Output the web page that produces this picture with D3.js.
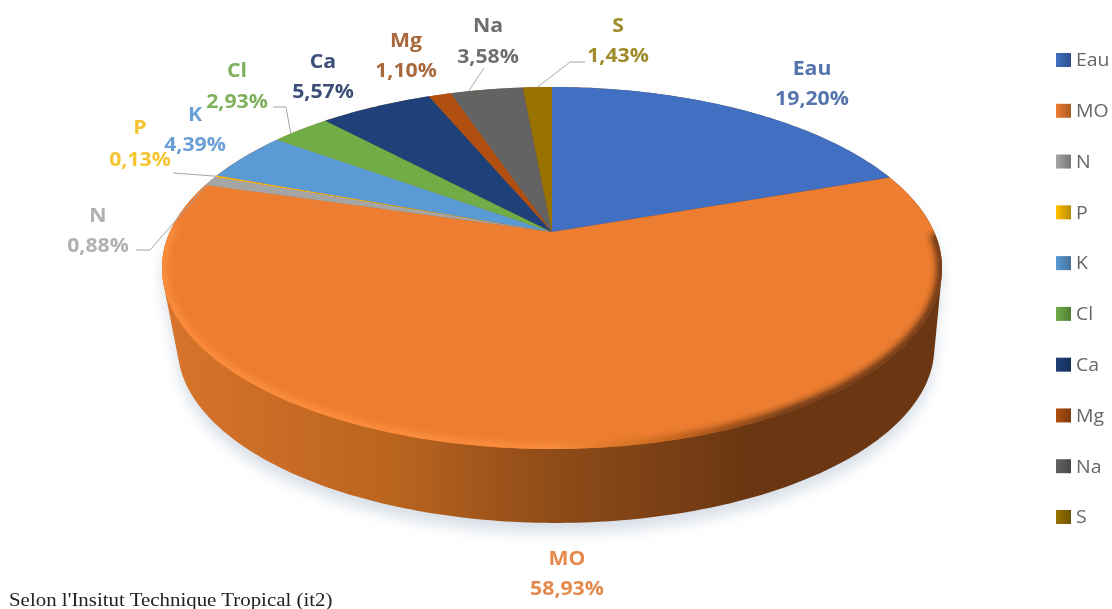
<!DOCTYPE html>
<html>
<head>
<meta charset="utf-8">
<script src="https://cdn.jsdelivr.net/npm/d3@7"></script>
<style>
  html, body { margin: 0; padding: 0; background: #fff; overflow: hidden; }
  svg { display: block; filter: blur(0.45px); }
</style>
</head>
<body>
<svg id="chart" width="1112" height="609"></svg>
<script>
const names = ["Eau", "MO", "N", "P", "K", "Cl", "Ca", "Mg", "Na", "S"]
const shares = [19.20, 58.93, 0.88, 0.13, 4.39, 2.93, 5.57, 1.10, 3.58, 1.43]
const shareLabels = ["19,20%", "58,93%", "0,88%", "0,13%", "4,39%", "2,93%", "5,57%", "1,10%", "3,58%", "1,43%"]
const colors = ["#4170c2", "#ed7d31", "#a5a5a5", "#ffc000", "#5b9bd5", "#70ad47", "#1f4179", "#b04f10", "#636363", "#997300"]
const labelColors = ["#5474ae", "#e58a4c", "#b0b0b0", "#f5c430", "#6a9fd6", "#7fb05e", "#3c4f78", "#a8683c", "#6e6e6e", "#a08a2a"]

const svg = d3.select("#chart")
const defs = svg.append("defs")

// pie is drawn in perspective: unit circle -> rim, apex stays off the ellipse centre
const tilt = -0.199
const xScale = d3.scaleLinear().domain([-1, 1]).range([552 - 382.2, 552 + 382.2])
const yScale = d3.scaleLinear().domain([-1, 1]).range([232 - 173.8, 232 + 173.8])
const rim = a => {
  const u = Math.sin(a), v = -Math.cos(a), w = 1 + tilt * v
  return [xScale(u / w), yScale(v / w)]
}
const apex = [xScale(0), yScale(0)]
const lineGen = d3.line()

const arcPoints = (from, to) => {
  const n = Math.max(2, Math.ceil((to - from) * 60))
  return d3.range(n + 1).map(i => rim(from + (to - from) * i / n))
}

const arcs = d3.pie().sort(null).value(d => d)(shares)
const fullRim = arcPoints(0, Math.PI * 2)

// bottom edge of the side wall, a little narrower than the rim
const bottom = fullRim.map(p => [(p[0] - 552) * 0.97 + 556, (p[1] - 268) * 0.97 + 347.4])
const hull = d3.polygonHull(fullRim.concat(bottom))

// gradients
const sideGrad = defs.append("linearGradient").attr("id", "side")
  .attr("gradientUnits", "userSpaceOnUse").attr("x1", 162).attr("x2", 942).attr("y1", 0).attr("y2", 0)
sideGrad.selectAll("stop")
  .data([[0, "#d9742b"], [0.3, "#b9641f"], [0.5, "#8f4c18"], [0.75, "#6a3712"], [1, "#6a3712"]])
  .enter().append("stop")
  .attr("offset", d => d[0]).attr("stop-color", d => d[1])

const bevelGrad = defs.append("linearGradient").attr("id", "bevel")
  .attr("gradientUnits", "userSpaceOnUse").attr("x1", 162).attr("x2", 942).attr("y1", 0).attr("y2", 0)
bevelGrad.selectAll("stop")
  .data([[0, "#fb8d3c"], [0.5, "#fb8d3c"], [0.64, "#c9691f"], [0.8, "#6a3712"], [1, "#6a3712"]])
  .enter().append("stop")
  .attr("offset", d => d[0]).attr("stop-color", d => d[1])

defs.append("filter").attr("id", "soft").attr("x", "-10%").attr("y", "-10%").attr("width", "120%").attr("height", "120%")
  .append("feGaussianBlur").attr("stdDeviation", 7)
defs.append("filter").attr("id", "softEdge").attr("x", "-10%").attr("y", "-10%").attr("width", "120%").attr("height", "120%")
  .append("feGaussianBlur").attr("stdDeviation", 3)
defs.append("clipPath").attr("id", "topClip")
  .append("path").attr("d", lineGen(fullRim) + "Z")

names.forEach((n, i) => {
  const g = defs.append("linearGradient").attr("id", "swatch" + i)
  g.append("stop").attr("offset", 0).attr("stop-color", colors[i])
  g.append("stop").attr("offset", 1).attr("stop-color", d3.color(colors[i]).darker(0.9))
})

// shadow + side wall
svg.append("path")
  .attr("d", lineGen(hull) + "Z")
  .attr("transform", "translate(0,10)")
  .attr("fill", "#9fb0c4")
  .attr("opacity", 0.4)
  .attr("filter", "url(#soft)")

svg.append("path")
  .attr("d", lineGen(hull) + "Z")
  .attr("fill", "url(#side)")

// slices
svg.selectAll("path.slice")
  .data(arcs)
  .enter()
  .append("path")
  .attr("class", "slice")
  .attr("d", d => lineGen([apex].concat(arcPoints(d.startAngle, d.endAngle))) + "Z")
  .attr("fill", (d, i) => colors[i])

// rim shading, front half only
const moArc = arcs[1]
svg.append("g").attr("clip-path", "url(#topClip)")
  .append("path")
  .attr("d", lineGen(arcPoints(moArc.startAngle + 0.35, moArc.endAngle - 0.25)))
  .attr("fill", "none")
  .attr("stroke", "url(#bevel)")
  .attr("stroke-width", 11)
  .attr("filter", "url(#softEdge)")

// leader lines, last point sits on the slice rim (fraction along the slice)
const leaderElbows = {
  N: [[136, 250], [150, 250]],
  P: [[173, 173]],
  Cl: [[273, 107], [286, 107]],
  Na: [[484, 68]],
  S: [[585, 62], [570, 62]]
}
const leaderAt = { N: 0.5, P: 0.5, Cl: 0.3, Na: 0.25, S: 0.5 }
svg.selectAll("path.leader")
  .data(arcs.filter((d, i) => leaderElbows[names[i]]))
  .enter()
  .append("path")
  .attr("class", "leader")
  .attr("d", d => {
    const name = names[d.index]
    const end = rim(d.startAngle + (d.endAngle - d.startAngle) * leaderAt[name])
    return lineGen(leaderElbows[name].concat([end]))
  })
  .attr("fill", "none")
  .attr("stroke", "#a6a6a6")
  .attr("stroke-width", 1)

// data labels, the source picture is stretched sideways so text gets scaled too
const labelSpots = {
  Eau: [812, 68, 98], MO: [567, 558, 588], N: [98, 215, 245], P: [140, 127, 159], K: [195, 114, 144],
  Cl: [237, 70, 101], Ca: [323, 61, 91], Mg: [406, 40, 70], Na: [488, 25, 56], S: [618, 25, 55]
}
const labels = svg.selectAll("g.label")
  .data(names)
  .enter()
  .append("g")
  .attr("class", "label")
  .attr("font-family", "'Open Sans', sans-serif")
  .attr("font-size", 19)
  .attr("font-weight", 700)
  .attr("text-anchor", "middle")
  .attr("fill", (d, i) => labelColors[i])

labels.append("text")
  .attr("transform", d => `translate(${labelSpots[d][0]},${labelSpots[d][1]}) scale(1.12,1)`)
  .attr("dy", "0.35em")
  .text(d => d)
labels.append("text")
  .attr("transform", d => `translate(${labelSpots[d][0]},${labelSpots[d][2]}) scale(1.12,1)`)
  .attr("dy", "0.35em")
  .text((d, i) => shareLabels[i])

// legend
const legendY = d3.scalePoint().domain(names).range([60, 517])
const legend = svg.selectAll("g.legend")
  .data(names)
  .enter()
  .append("g")
  .attr("class", "legend")
  .attr("transform", d => `translate(1056,${legendY(d)})`)
legend.append("rect")
  .attr("x", 0).attr("y", -7)
  .attr("width", 15).attr("height", 14)
  .attr("fill", (d, i) => `url(#swatch${i})`)
legend.append("text")
  .attr("transform", "translate(20,0) scale(1.08,1)")
  .attr("dy", "0.35em")
  .attr("font-family", "'Open Sans', sans-serif")
  .attr("font-size", 18)
  .attr("fill", "#666")
  .text(d => d)

// footnote under the chart
svg.append("text")
  .attr("transform", "translate(9,606) scale(1.1,1)")
  .attr("font-family", "'Liberation Serif', serif")
  .attr("font-size", 19)
  .attr("fill", "#222")
  .text("Selon l'Insitut Technique Tropical (it2)")
</script>
</body>
</html>
